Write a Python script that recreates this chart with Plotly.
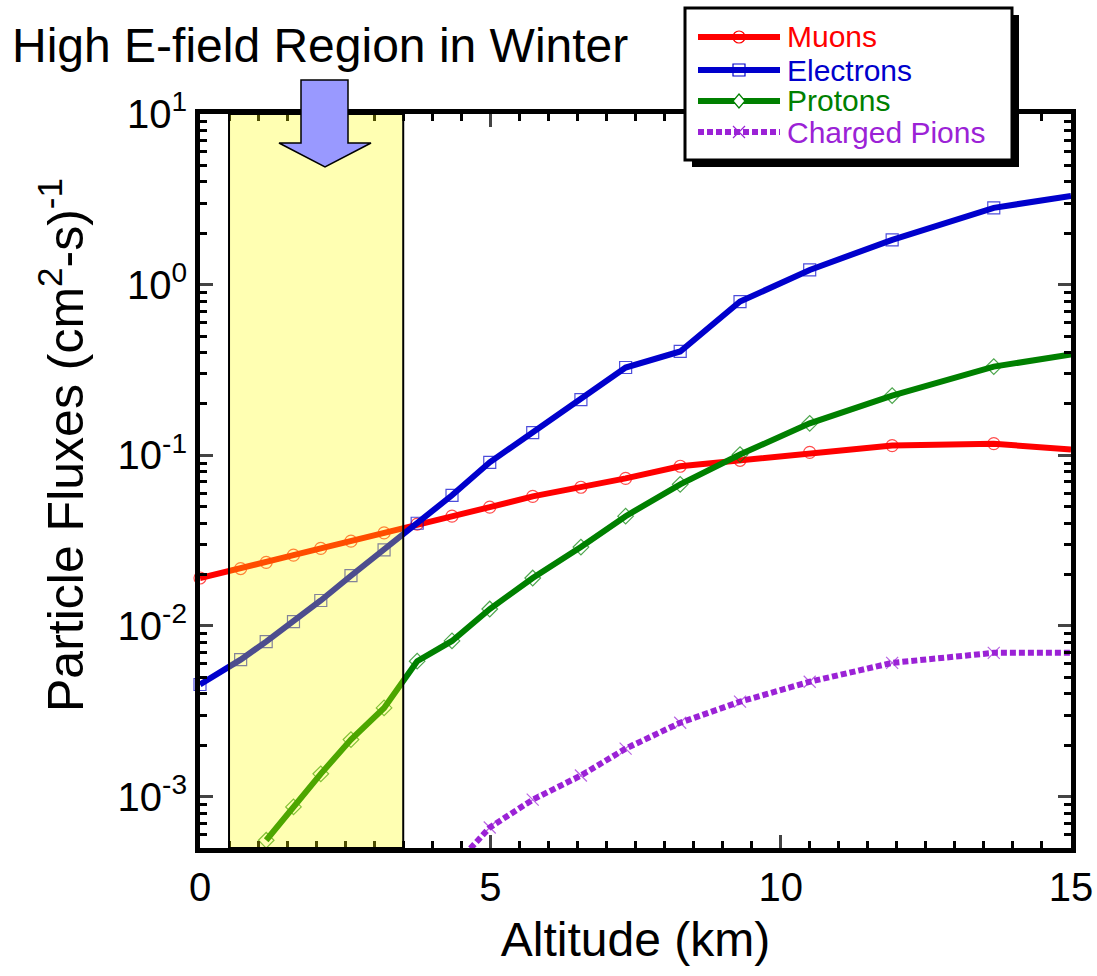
import plotly.graph_objects as go

altitude = [0.0, 0.70, 1.14, 1.61, 2.08, 2.60, 3.17, 3.74, 4.34, 4.99, 5.73, 6.56, 7.33, 8.27, 9.30, 10.5, 11.92, 13.67, 15.0]
muons = [0.0191, 0.0217, 0.0236, 0.0260, 0.0285, 0.0314, 0.0351, 0.0395, 0.0440, 0.0497, 0.0575, 0.0650, 0.0733, 0.0863, 0.0935, 0.104, 0.114, 0.117, 0.108]
electrons = [0.00454, 0.00635, 0.00810, 0.0106, 0.0141, 0.0197, 0.0279, 0.0400, 0.0583, 0.0910, 0.136, 0.212, 0.327, 0.406, 0.796, 1.22, 1.83, 2.82, 3.31]
alt_protons = [1.14, 1.61, 2.08, 2.60, 3.17, 3.74, 4.34, 4.99, 5.73, 6.56, 7.33, 8.27, 9.30, 10.5, 11.92, 13.67, 15.0]
protons = [5.55e-4, 8.7e-4, 1.36e-3, 2.16e-3, 3.31e-3, 6.22e-3, 8.17e-3, 0.01257, 0.0191, 0.0290, 0.0440, 0.0676, 0.101, 0.154, 0.224, 0.331, 0.390]
alt_pions = [4.34, 4.99, 5.73, 6.56, 7.33, 8.27, 9.30, 10.5, 11.92, 13.67, 15.0]
pions = [3.8e-4, 6.59e-4, 9.6e-4, 1.33e-3, 1.91e-3, 2.71e-3, 3.60e-3, 4.71e-3, 6.08e-3, 6.96e-3, 6.96e-3]

y_tickvals = [1e-3, 1e-2, 1e-1, 1, 10]
y_ticktext = ["10<sup>-3</sup>", "10<sup>-2</sup>", "10<sup>-1</sup>", "10<sup>0</sup>", "10<sup>1</sup>"]
x_tickvals = [0, 5, 10, 15]

FONT = "Liberation Sans, Arial, sans-serif"
W, H = 1097, 976
L, R, T, B = 200, 26, 114, 128
PW, PH = W - L - R, H - T - B

def px(x):
    return (x - L) / PW

def py(y):
    return (H - B - y) / PH

def sizes(n, s):
    return [s] * (n - 1) + [0]

fig = go.Figure()
series = [
    ("Muons", altitude, muons, "#FF0000", "circle-open", "solid", False),
    ("Electrons", altitude, electrons, "#0000CC", "square-open", "solid", False),
    ("Protons", alt_protons, protons, "#008000", "diamond-open", "solid", True),
    ("Charged Pions", alt_pions, pions, "#9B22D6", "x-thin-open", "6px,3px", True),
]
for name, xs, ys, col, sym, dash, clip in series:
    fig.add_trace(go.Scatter(
        x=xs, y=ys, mode="lines+markers", name=name,
        line=dict(color=col, width=6, dash=dash),
        marker=dict(symbol=sym, size=sizes(len(xs), 12), color=col,
                    line=dict(color=col, width=1.2)),
        cliponaxis=clip, showlegend=False,
    ))

minor_y = []
for e in range(-4, 1):
    for m in range(2, 10):
        v = m * 10 ** e
        if 5e-4 <= v <= 10:
            minor_y.append(v)

fig.update_xaxes(
    range=[0, 15], tickvals=x_tickvals, ticks="inside", ticklen=13, tickwidth=3,
    showline=True, linewidth=5, linecolor="black", mirror="allticks",
    showgrid=False, zeroline=False, automargin=False,
    tickfont=dict(family=FONT, size=40, color="black"),
    minor=dict(dtick=0.5, ticks="inside", ticklen=7, tickwidth=3, tickcolor="black", showgrid=False),
    title=dict(text="Altitude (km)", font=dict(family=FONT, size=48, color="black"), standoff=16),
)
fig.update_yaxes(
    type="log", range=[-3.301, 1], tickvals=y_tickvals, ticktext=y_ticktext,
    ticks="inside", ticklen=13, tickwidth=3,
    showline=True, linewidth=5, linecolor="black", mirror="allticks",
    showgrid=False, zeroline=False, automargin=False,
    tickfont=dict(family=FONT, size=40, color="black"),
    minor=dict(tickvals=minor_y, ticks="inside", ticklen=7, tickwidth=3, tickcolor="black", showgrid=False),
)

shapes = []
# highlighted region
shapes.append(dict(type="rect", xref="x", yref="paper", x0=0.5, x1=3.5, y0=0, y1=1,
                   fillcolor="rgba(255,255,0,0.3)", line=dict(color="black", width=2), layer="above"))
# arrow
ay_top, ay_head, ay_tip = 80, 143, 167
path = (f"M {px(301)},{py(ay_top)} L {px(348)},{py(ay_top)} L {px(348)},{py(ay_head)} "
        f"L {px(371)},{py(ay_head)} L {px(325)},{py(ay_tip)} L {px(279)},{py(ay_head)} "
        f"L {px(301)},{py(ay_head)} Z")
shapes.append(dict(type="path", xref="paper", yref="paper", path=path,
                   fillcolor="#9999FF", line=dict(color="black", width=1.5), layer="above"))
# legend box with shadow
lx0, ly0, lx1, ly1 = 685, 8, 1012, 160
shapes.append(dict(type="rect", xref="paper", yref="paper", x0=px(lx0 + 7), x1=px(lx1 + 7),
                   y0=py(ly1 + 7), y1=py(ly0 + 7), fillcolor="black", line=dict(width=0), layer="above"))
shapes.append(dict(type="rect", xref="paper", yref="paper", x0=px(lx0), x1=px(lx1),
                   y0=py(ly1), y1=py(ly0), fillcolor="white", line=dict(color="black", width=3), layer="above"))

row_y = [37, 70, 101, 132]
mx, ms = 739, 6
for (name, xs, ys, col, sym, dash, clip), ry in zip(series, row_y):
    shapes.append(dict(type="line", xref="paper", yref="paper", x0=px(698), x1=px(780),
                       y0=py(ry), y1=py(ry), line=dict(color=col, width=6, dash=dash), layer="above"))
    mk = dict(xref="paper", yref="paper", line=dict(color=col, width=1.2), layer="above")
    if sym.startswith("circle"):
        shapes.append(dict(type="circle", x0=px(mx - ms), x1=px(mx + ms), y0=py(ry + ms), y1=py(ry - ms),
                           fillcolor="rgba(0,0,0,0)", **mk))
    elif sym.startswith("square"):
        shapes.append(dict(type="rect", x0=px(mx - ms), x1=px(mx + ms), y0=py(ry + ms), y1=py(ry - ms),
                           fillcolor="rgba(0,0,0,0)", **mk))
    elif sym.startswith("diamond"):
        d = (f"M {px(mx)},{py(ry - ms - 1)} L {px(mx + ms)},{py(ry)} L {px(mx)},{py(ry + ms + 1)} "
             f"L {px(mx - ms)},{py(ry)} Z")
        shapes.append(dict(type="path", path=d, fillcolor="white", **mk))
    else:
        d = (f"M {px(mx - ms)},{py(ry - ms)} L {px(mx + ms)},{py(ry + ms)} "
             f"M {px(mx - ms)},{py(ry + ms)} L {px(mx + ms)},{py(ry - ms)}")
        shapes.append(dict(type="path", path=d, **mk))
fig.update_layout(shapes=shapes)

annotations = [
    dict(text="High E-field Region in Winter", xref="paper", yref="paper",
         x=px(320), y=py(46), xanchor="center", yanchor="middle", showarrow=False,
         font=dict(family=FONT, size=48, color="black")),
    dict(text="Particle Fluxes (cm<sup>2</sup>-s)<sup>-1</sup>", xref="paper", yref="paper",
         x=px(62), y=py(445), xanchor="center", yanchor="middle", showarrow=False, textangle=-90,
         font=dict(family=FONT, size=50, color="black")),
]
for (name, xs, ys, col, sym, dash, clip), ry in zip(series, row_y):
    annotations.append(dict(text=name, xref="paper", yref="paper", x=px(785), y=py(ry),
                            xanchor="left", yanchor="middle", showarrow=False,
                            font=dict(family=FONT, size=30, color=col)))
fig.update_layout(annotations=annotations)

fig.update_layout(
    width=W, height=H, margin=dict(l=L, r=R, t=T, b=B),
    paper_bgcolor="white", plot_bgcolor="white", showlegend=False,
    font=dict(family=FONT, color="black"),
)
fig.write_html(
    "out.html",
    config={"displayModeBar": False},
    post_script="document.body.style.margin='0';document.body.style.overflow='hidden';",
)
